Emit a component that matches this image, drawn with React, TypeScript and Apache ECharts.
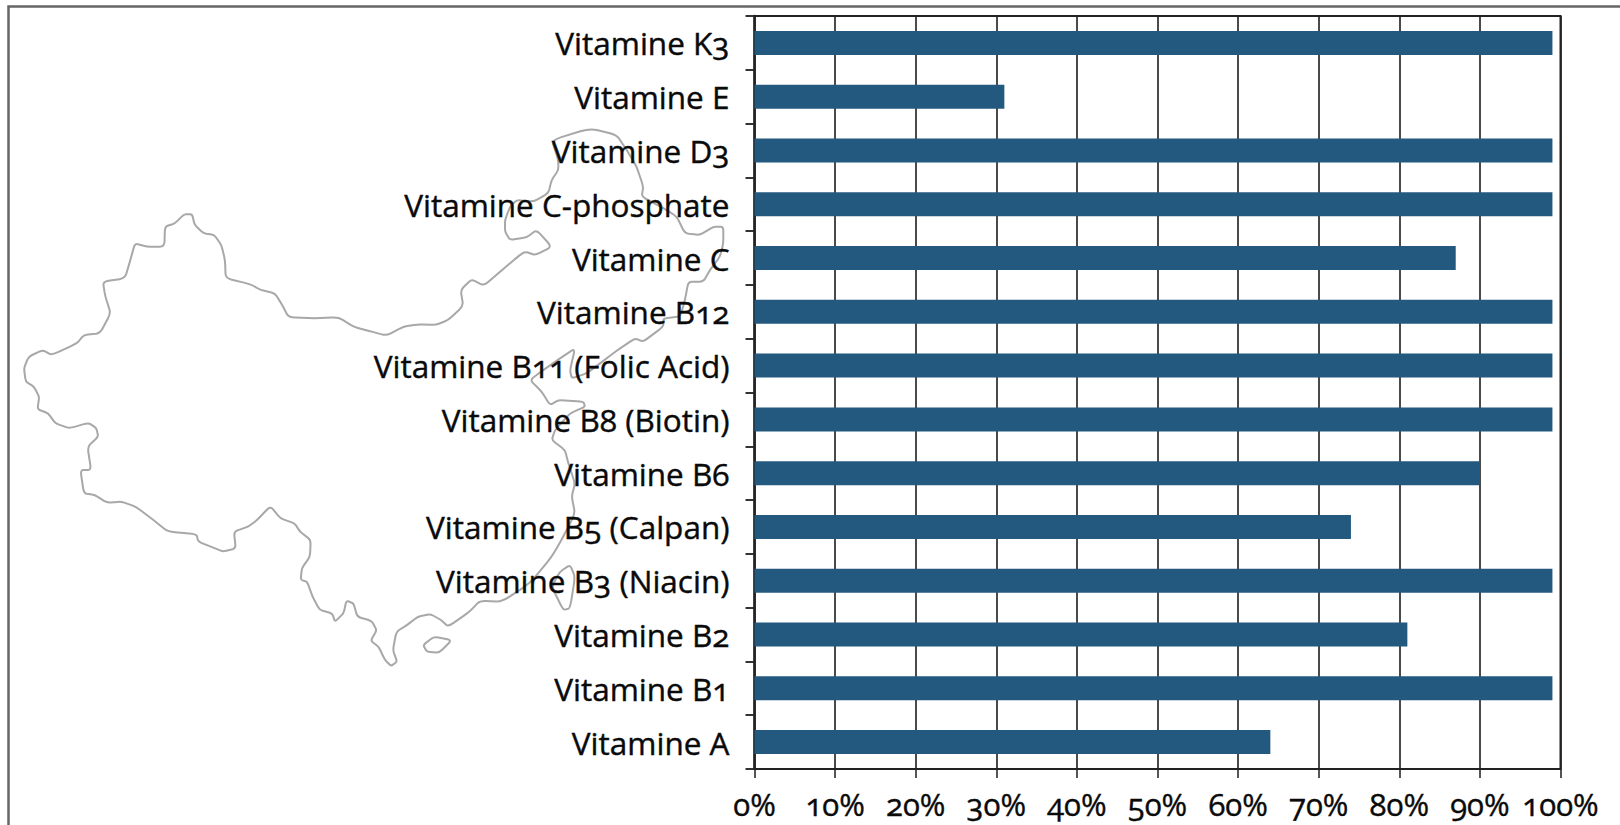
import React, { useEffect, useRef } from "react";
import * as echarts from "echarts";

const categories = [
  "Vitamine A", "Vitamine B1", "Vitamine B2", "Vitamine B3 (Niacin)", "Vitamine B5 (Calpan)",
  "Vitamine B6", "Vitamine B8 (Biotin)", "Vitamine B11 (Folic Acid)", "Vitamine B12", "Vitamine C",
  "Vitamine C-phosphate", "Vitamine D3", "Vitamine E", "Vitamine K3",
];
const values = [64, 99, 81, 99, 74, 90, 99, 99, 99, 87, 99, 99, 31, 99];

const outlineWest = [[515,103],[538,103],[545,135],[570,160],[600,165],[620,195],[630,240],[632,295],[700,312],[730,330],[770,340],[790,375],[808,412],[880,415],[948,412],[990,440],[1030,452],[1082,467],[1130,440],[1170,433],[1220,435],[1255,420],[1297,378],[1290,330],[1320,298],[1355,317],[1400,275],[1450,230],[1470,215],[1500,225]];
const outlineNorthEast = [[215,440],[170,390],[140,412],[90,420],[75,395],[75,360],[90,320],[110,300],[160,305],[205,280],[215,240],[235,210],[235,180],[215,120],[330,85],[410,105],[440,150],[470,200],[490,260],[485,290],[560,330],[590,350],[615,400],[660,405],[700,380],[730,380],[730,430],[720,470],[690,510],[670,545],[625,545],[615,600],[600,650],[550,655],[550,680],[490,725],[465,715],[420,745],[380,775],[320,820],[275,835],[270,810],[285,745],[240,775],[190,810],[150,840]];
const outlineEast = [[185,95],[210,135],[235,120],[310,125],[315,140],[270,160],[225,210],[215,240],[255,270],[265,310],[285,370],[275,410],[285,460],[250,530],[215,590],[150,670],[65,725],[0,722]];
const outlineSouth = [[1315,1295],[1255,1340],[1235,1320],[1205,1302],[1170,1310],[1140,1335],[1110,1355],[1100,1410],[1112,1445],[1095,1458],[1078,1440],[1060,1400],[1038,1382],[1055,1350],[1040,1322],[1000,1310],[990,1270],[970,1262],[962,1300],[938,1325],[930,1300],[895,1290],[875,1250],[860,1205],[842,1200],[845,1165],[868,1130],[870,1080],[840,1055],[825,1030],[785,1015],[757,978],[720,1020],[695,1040],[655,1055],[660,1105],[625,1115],[590,1100],[555,1085],[550,1062],[470,1055],[430,1020],[380,980],[340,965],[300,968],[265,945],[235,940],[225,870],[255,870],[245,800],[275,770],[270,745],[248,728],[195,745],[155,730],[135,700],[105,688],[110,650],[95,620],[72,605],[67,565],[80,530],[120,510],[145,525],[215,490],[235,465],[280,460],[310,400],[295,350],[288,305],[350,295],[365,240],[378,190],[410,200],[460,200],[462,140],[490,130]];
const islandHainan = [[1185,1395],[1215,1370],[1265,1380],[1230,1418],[1195,1415]];
const islandTaiwan = [[270,615],[240,635],[215,680],[250,750],[270,745],[285,650]];

const fromLarge = (p: number[]) => [p[0] / 2.8, 180 + p[1] / 3];
const fromNorth = (p: number[]) => [480 + p[0] / 3, 100 + p[1] / 3];
const fromEast = (p: number[]) => [480 + p[0] / 3, 360 + p[1] / 3];

const closedCurve = (pts: number[][]) => {
  const lerp = (a: number[], b: number[], t: number) => [a[0] + (b[0] - a[0]) * t, a[1] + (b[1] - a[1]) * t];
  const f = (n: number) => n.toFixed(1);
  const n = pts.length;
  let d = "";
  pts.forEach((p, i) => {
    const before = lerp(p, pts[(i - 1 + n) % n], 0.25);
    const after = lerp(p, pts[(i + 1) % n], 0.25);
    d += `${i === 0 ? "M" : "L"}${f(before[0])} ${f(before[1])}Q${f(p[0])} ${f(p[1])} ${f(after[0])} ${f(after[1])}`;
  });
  return d + "Z";
};

const mainland = [
  ...outlineWest.map(fromLarge),
  ...outlineNorthEast.map(fromNorth),
  ...outlineEast.map(fromEast),
  ...outlineSouth.map(fromLarge),
];
const mapPath =
  closedCurve(mainland) + closedCurve(islandHainan.map(fromLarge)) + closedCurve(islandTaiwan.map(fromEast));

echarts.graphic.registerShape("chinaMap", echarts.graphic.extendPath(mapPath, {}) as any);

const FONT = "'Open Sans', 'Noto Sans', sans-serif";
const AXIS = "#333";

export default function App() {
  const ref = useRef<HTMLDivElement>(null);
  useEffect(() => {
    const chart = echarts.init(ref.current!, undefined, { renderer: "svg" });
    chart.setOption({
      animation: false,
      backgroundColor: "#ffffff",
      grid: { left: 754.5, right: 59.5, top: 16, bottom: 56, show: true, borderColor: "#222", borderWidth: 2, backgroundColor: "transparent", z: 3 },
      xAxis: {
        type: "value", min: 0, max: 100, interval: 10,
        axisLine: { show: true, lineStyle: { color: AXIS, width: 2 } },
        axisTick: { show: true, length: 9, lineStyle: { color: "#555", width: 2 } },
        splitLine: { show: true, lineStyle: { color: "#4a4a4a", width: 2 } },
        axisLabel: { formatter: "{value}%", color: "#0a0a0a", fontFamily: FONT, fontSize: 31, margin: 19, textBorderColor: "#0a0a0a", textBorderWidth: 0.4 },
      },
      yAxis: {
        type: "category", data: categories,
        axisLine: { show: true, lineStyle: { color: AXIS, width: 2.5 } },
        axisTick: { show: true, length: 9, lineStyle: { color: AXIS, width: 2 } },
        axisLabel: { color: "#0a0a0a", fontFamily: FONT, fontSize: 31.5, margin: 25, interval: 0, padding: [0, 0, 0, 0], textBorderColor: "#0a0a0a", textBorderWidth: 0.4, verticalAlign: "middle", lineHeight: 34 },
      },
      series: [{ type: "bar", data: values, barWidth: 24, itemStyle: { color: "#24597f" }, z: 4 }],
      graphic: [
        { type: "polyline", z: -1, silent: true, shape: { points: [[8.5, 825], [8.5, 6.5], [1620, 6.5]] }, style: { stroke: "#666", lineWidth: 2.5, fill: "none" } },
        { type: "chinaMap", z: -1, silent: true, style: { stroke: "#a8a8a8", lineWidth: 2, fill: "none" } },
      ],
    });
    return () => chart.dispose();
  }, []);
  return (
    <div
      ref={ref}
      style={{ position: "fixed", left: 0, top: 0, width: 1620, height: 825, fontFeatureSettings: '"onum"' }}
    />
  );
}
